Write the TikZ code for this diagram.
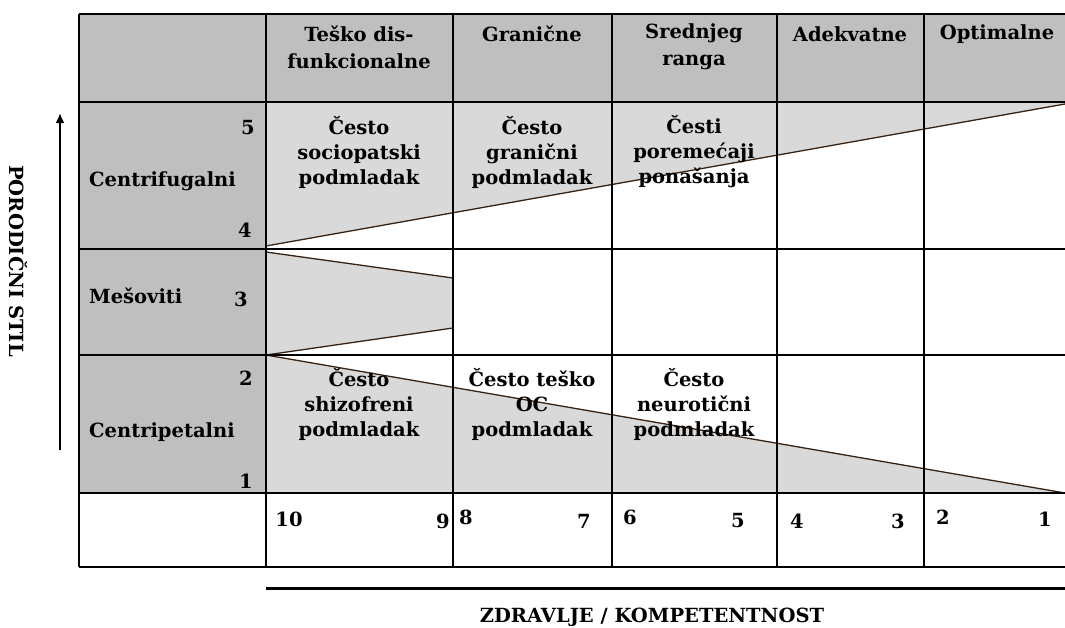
\documentclass[tikz,border=0pt]{standalone}
\usepackage{fontspec}
\setmainfont{DejaVu Serif}
\usetikzlibrary{arrows.meta}
\definecolor{hdr}{HTML}{BFBFBF}
\definecolor{tri}{HTML}{D9D9D9}
\definecolor{brn}{HTML}{3A2210}
\begin{document}
\begin{tikzpicture}[x=1pt,y=-1pt,
  txt/.style={font=\bfseries\fontsize{19.5}{25}\selectfont, inner sep=0pt, align=center},
  htxt/.style={font=\bfseries\fontsize{19.5}{27}\selectfont, inner sep=0pt, align=center},
  grid/.style={draw=black, line width=1.7pt},
  edge/.style={draw=brn, line width=1.3pt},
  band/.style={fill=tri}]
\useasboundingbox (0,0) rectangle (1065,627);
% fills
\fill[hdr] (79,14) rectangle (1065,102);
\fill[hdr] (79,102) rectangle (266,493);
\fill[band] (266,102) -- (1065,102) -- (1065,104) -- (266,246) -- cycle;
\fill[band] (266,252) -- (453,278) -- (453,328) -- (266,355) -- cycle;
\fill[band] (266,355) -- (1065,493) -- (266,493) -- cycle;
% brown edges
\draw[edge] (266,246) -- (1065,104);
\draw[edge] (266,252) -- (453,278);
\draw[edge] (453,328) -- (266,355);
\draw[edge] (266,355) -- (1065,493);
% grid
\foreach \yy in {14,102,249,355,493,567} \draw[grid] (79,\yy) -- (1065,\yy);
\foreach \xx in {79,266,453,612,777,924} \draw[grid] (\xx,14) -- (\xx,567);
% header
\node[htxt] (h1) at (359,47) {Teško dis-\\funkcionalne};
\node[htxt] (h2) at (532,34) {Granične};
\node[htxt] (h3) at (694,47) {Srednjeg\\ranga};
\node[htxt] (h4) at (850,34) {Adekvatne};
\node[htxt] (h5) at (997,34) {Optimalne};
% row labels
\node[txt,anchor=west] (r1) at (89,181) {Centrifugalni};
\node[txt] (n5) at (248,128) {5};
\node[txt] (n4) at (245,230) {4};
\node[txt,anchor=west] (r2) at (89,296) {Mešoviti};
\node[txt] (n3) at (241,299) {3};
\node[txt,anchor=west] (r3) at (89,432) {Centripetalni};
\node[txt] (n2) at (246,378) {2};
\node[txt] (n1) at (246,481) {1};
% cells
\node[txt] (c11) at (359,152) {Često\\sociopatski\\podmladak};
\node[txt] (c12) at (532,152) {Često\\granični\\podmladak};
\node[txt] (c13) at (694,152) {Česti\\poremećaji\\ponašanja};
\node[txt] (c31) at (359,404) {Često\\shizofreni\\podmladak};
\node[txt] (c32) at (532,404) {Često teško\\OC\\podmladak};
\node[txt] (c33) at (694,404) {Često\\neurotični\\podmladak};
% bottom numbers
\node[txt] (b10) at (289,519) {10};
\node[txt] (b9) at (443,521) {9};
\node[txt] (b8) at (466,517) {8};
\node[txt] (b7) at (584,521) {7};
\node[txt] (b6) at (630,517) {6};
\node[txt] (b5) at (738,521) {5};
\node[txt] (b4) at (797,521) {4};
\node[txt] (b3) at (898,521) {3};
\node[txt] (b2) at (943,517) {2};
\node[txt] (b1) at (1045,519) {1};
% axes
\coordinate (xl) at (266,588);
\coordinate (xr) at (1065,588);
\draw[line width=3pt] (xl) -- (xr);
\node[txt] (xlab) at (652,617) {ZDRAVLJE / KOMPETENTNOST};
\coordinate (abot) at (60,450);
\coordinate (atop) at (60,113);
\draw[line width=2.6pt, -{Latex[length=10pt,width=9pt]}] (abot) -- (atop);
\node[txt, rotate=-90] (ylab) at (18,261) {PORODIČNI STIL};
\end{tikzpicture}
\end{document}
